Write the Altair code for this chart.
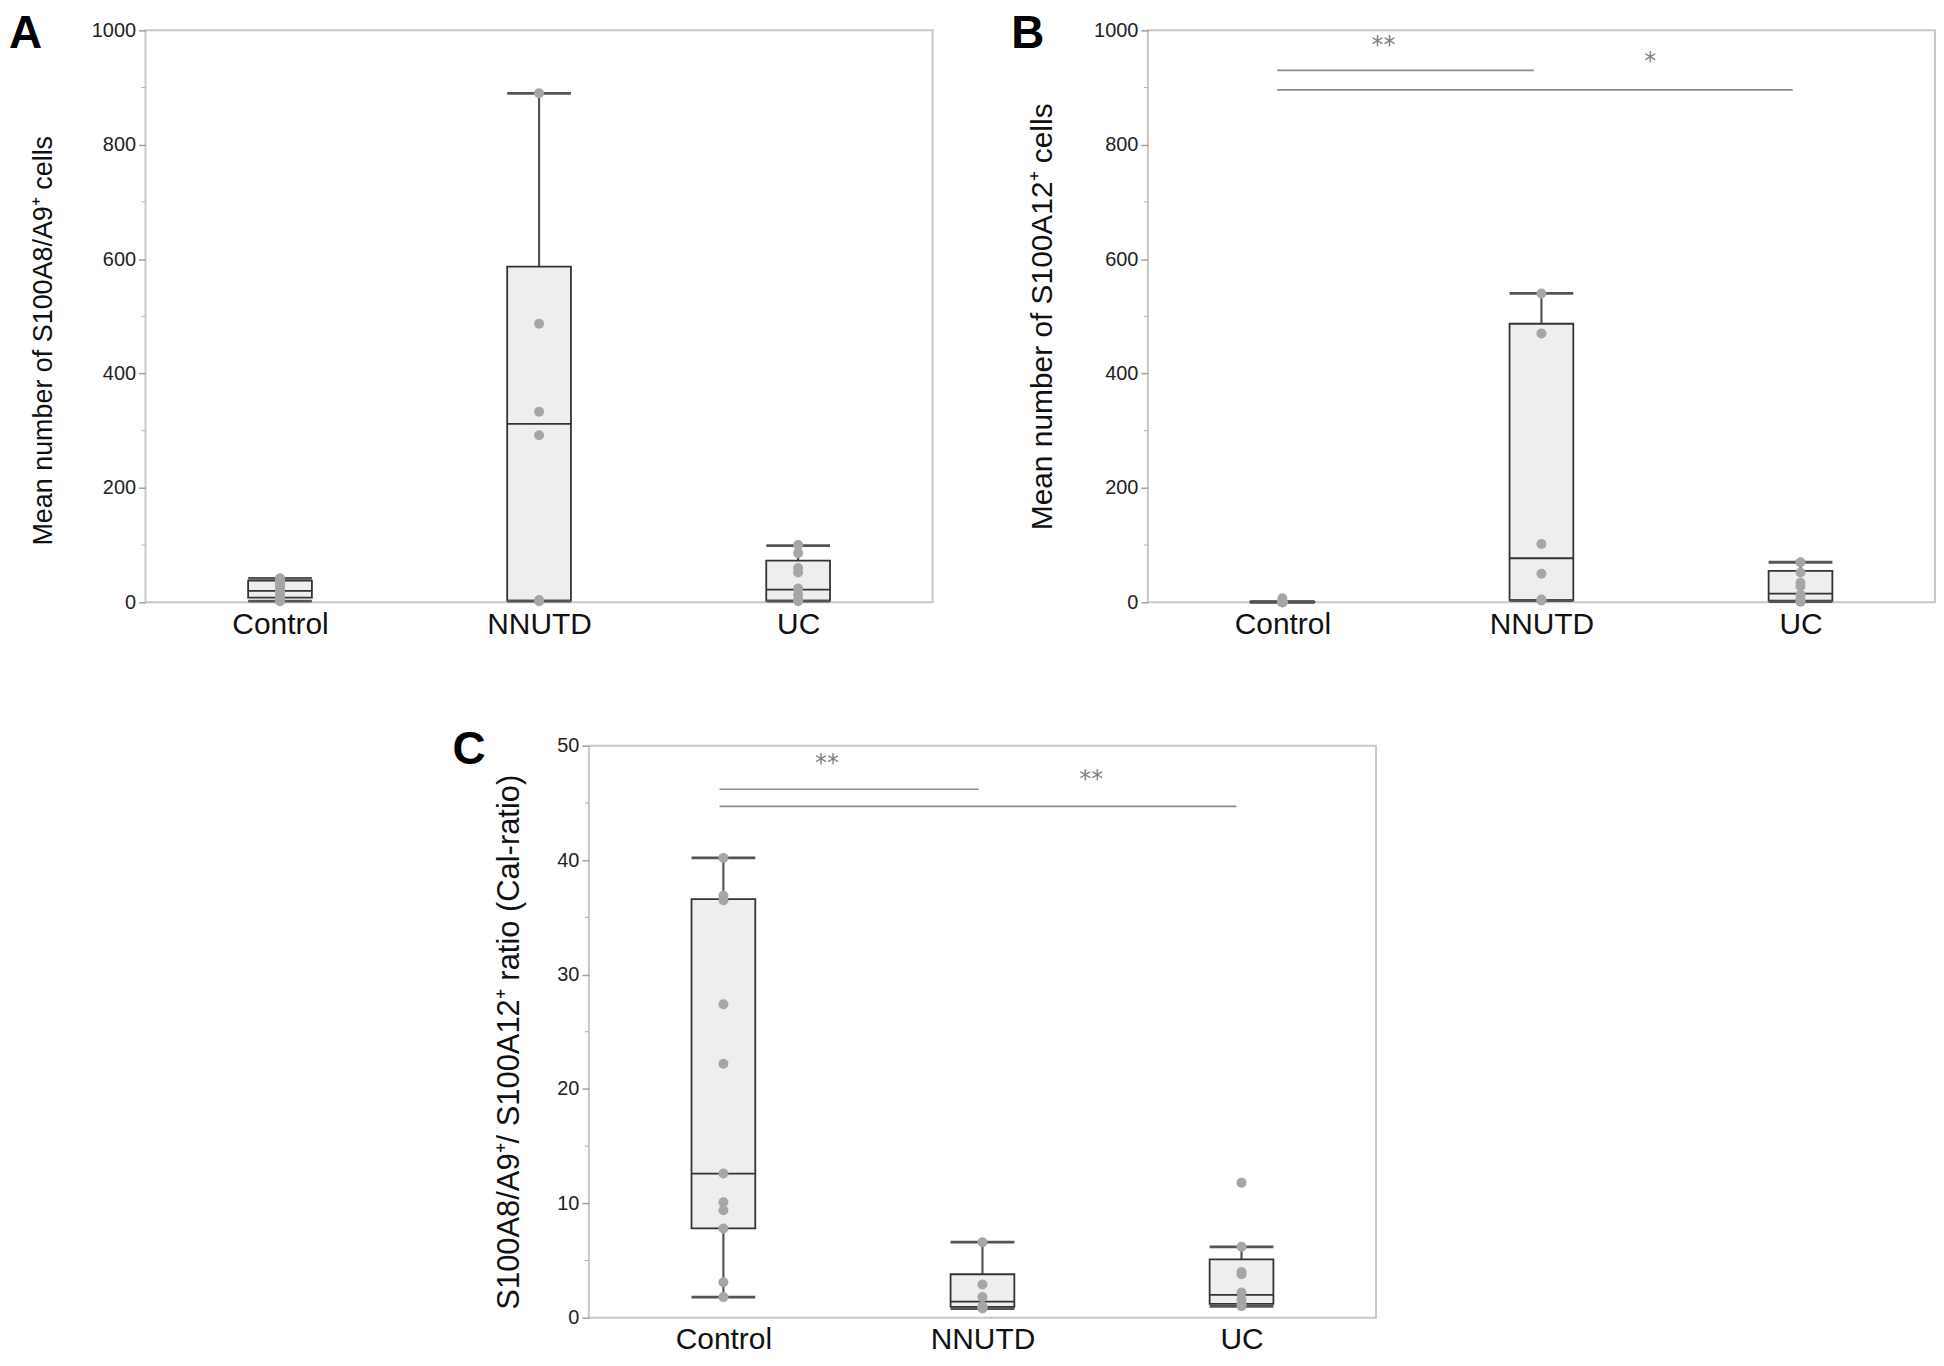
import altair as alt
import pandas as pd

groups = ["Control", "NNUTD", "UC"]
group_pos = [0, 1, 2]

# ---------------- Panel A : S100A8/A9+ cells ----------------
a_points = {
    "Control": [42, 38, 34, 29, 24, 20, 16, 12, 9, 5, 2],
    "NNUTD": [890, 487, 333, 292, 4, 2],
    "UC": [100, 86, 60, 52, 24, 13, 5, 2],
}
a_wlo = [2, 2, 2]
a_q1 = [8, 3, 3]
a_med = [20, 312, 22]
a_q3 = [38, 587, 73]
a_whi = [42, 890, 99]

# ---------------- Panel B : S100A12+ cells ----------------
b_points = {
    "Control": [7, 2, 1, 1, 0, 0, 0, 0, 0, 0, 0],
    "NNUTD": [540, 470, 102, 50, 5, 3],
    "UC": [70, 52, 34, 28, 13, 6, 2, 1],
}
b_wlo = [0, 3, 1]
b_q1 = [0, 4, 3]
b_med = [1, 77, 15]
b_q3 = [1, 487, 55]
b_whi = [1, 540, 70]
b_sig_x1 = [-0.02, -0.02]
b_sig_x2 = [0.97, 1.97]
b_sig_y = [930, 896]
b_sig_text = ["**", "*"]
b_sig_tx = [0.39, 1.42]
b_sig_ty = [972, 945]

# ---------------- Panel C : Cal-ratio ----------------
c_points = {
    "Control": [40.2, 36.9, 36.5, 27.4, 22.2, 12.6, 10.1, 9.4, 7.8, 3.1, 1.8],
    "NNUTD": [6.6, 2.9, 1.8, 1.0, 0.9, 0.8],
    "UC": [11.8, 6.2, 4.0, 3.8, 2.2, 1.6, 1.2, 1.0],
}
c_wlo = [1.8, 0.8, 1.0]
c_q1 = [7.8, 0.95, 1.2]
c_med = [12.6, 1.4, 2.0]
c_q3 = [36.6, 3.8, 5.1]
c_whi = [40.2, 6.6, 6.2]
c_sig_x1 = [-0.015, -0.015]
c_sig_x2 = [0.985, 1.98]
c_sig_y = [46.2, 44.7]
c_sig_text = ["**", "**"]
c_sig_tx = [0.40, 1.42]
c_sig_ty = [48.4, 47.0]

W = 790
H = 574
BOX_PX = 64
FONT = "Liberation Sans"

label_expr = str(groups) + "[datum.value]"


def panel(letter, pts, wlo, q1, med, q3, whi, ydom, ymajor, yminor, ytitle,
          title_x, title_dy, title_size, sig=None):
    summ = pd.DataFrame({"group": groups, "pos": group_pos, "wlo": wlo,
                         "q1": q1, "med": med, "q3": q3, "whi": whi})
    rows = [{"group": g, "pos": p, "value": v}
            for g, p in zip(groups, group_pos) for v in pts[g]]
    pdf = pd.DataFrame(rows)

    xscale = alt.Scale(domain=[-0.5, 2.5], nice=False, zero=False)
    yscale = alt.Scale(domain=ydom, nice=False, zero=False)
    xaxis = alt.Axis(values=group_pos, labelExpr=label_expr, title=None,
                     ticks=False, domain=False, grid=False,
                     labelFontSize=30, labelPadding=7, labelColor="#111111",
                     labelFont=FONT)
    yaxis = alt.Axis(values=ymajor, title=ytitle, grid=False, domain=False,
                     tickSize=7, tickColor="#a0a0a0", tickWidth=1.5,
                     labelFontSize=20, labelPadding=3, labelColor="#222222",
                     labelFont=FONT, format="d",
                     titleX=title_x, titleY=H / 2 + title_dy, titleAngle=-90,
                     titleBaseline="middle", titleAlign="center",
                     titleFontWeight="normal", titleFontSize=title_size,
                     titleFont=FONT, titleColor="#111111")

    base = alt.Chart(summ)
    whisk = base.mark_rule(color="#555555", strokeWidth=2.2).encode(
        x=alt.X("pos:Q", scale=xscale, axis=xaxis),
        y=alt.Y("wlo:Q", scale=yscale, axis=yaxis),
        y2="whi:Q",
    )
    box = base.mark_bar(size=BOX_PX, fill="#eeeeee", stroke="#333333",
                        strokeWidth=1.8).encode(
        x="pos:Q", y="q1:Q", y2="q3:Q")
    medline = base.mark_tick(orient="horizontal", size=BOX_PX, thickness=1.8,
                             color="#333333", opacity=1).encode(
        x="pos:Q", y="med:Q")
    cap_hi = base.mark_tick(orient="horizontal", size=BOX_PX, thickness=2.8,
                            color="#555555", opacity=1).encode(
        x="pos:Q", y="whi:Q")
    cap_lo = base.mark_tick(orient="horizontal", size=BOX_PX, thickness=2.8,
                            color="#555555", opacity=1).encode(
        x="pos:Q", y="wlo:Q")
    points = alt.Chart(pdf).mark_circle(size=100, color="#a6a6a6",
                                        opacity=1).encode(
        x="pos:Q", y="value:Q")

    minor = alt.Chart(pd.DataFrame({"v": yminor})).mark_rule(
        color="#b0b0b0", strokeWidth=1).encode(
        y="v:Q", x=alt.value(-4), x2=alt.value(0))

    letter_txt = alt.Chart(pd.DataFrame({"t": [letter]})).mark_text(
        align="left", baseline="top", fontSize=46, fontWeight="bold",
        font="Liberation Sans", color="#000000").encode(
        text="t:N", x=alt.value(-137), y=alt.value(-18))

    layers = [whisk, box, medline, cap_hi, cap_lo, points, minor, letter_txt]

    if sig is not None:
        x1, x2, yv, txt, tx, ty = sig
        sdf = pd.DataFrame({"x1": x1, "x2": x2, "y": yv})
        tdf = pd.DataFrame({"t": txt, "x": tx, "y": ty})
        bars = alt.Chart(sdf).mark_rule(color="#8a8a8a",
                                        strokeWidth=1.6).encode(
            x="x1:Q", x2="x2:Q", y="y:Q")
        stars = alt.Chart(tdf).mark_text(fontSize=24, color="#808080",
                                         font="DejaVu Sans",
                                         baseline="middle").encode(
            x="x:Q", y="y:Q", text="t:N")
        layers += [bars, stars]

    return alt.layer(*layers).properties(width=W, height=H)


panel_a = panel("A", a_points, a_wlo, a_q1, a_med, a_q3, a_whi,
                [0, 1000], [0, 200, 400, 600, 800, 1000],
                [100, 300, 500, 700, 900],
                "Mean number of S100A8/A9\u207a cells", -102, 24, 27)
panel_b = panel("B", b_points, b_wlo, b_q1, b_med, b_q3, b_whi,
                [0, 1000], [0, 200, 400, 600, 800, 1000],
                [100, 300, 500, 700, 900],
                "Mean number of S100A12\u207a cells", -106, 0, 30,
                sig=(b_sig_x1, b_sig_x2, b_sig_y, b_sig_text, b_sig_tx,
                     b_sig_ty))
panel_c = panel("C", c_points, c_wlo, c_q1, c_med, c_q3, c_whi,
                [0, 50], [0, 10, 20, 30, 40, 50],
                [5, 15, 25, 35, 45],
                "S100A8/A9\u207a/ S100A12\u207a  ratio (Cal-ratio)", -80, 10,
                31,
                sig=(c_sig_x1, c_sig_x2, c_sig_y, c_sig_text, c_sig_tx,
                     c_sig_ty))

spacer = alt.Chart(pd.DataFrame({"a": [0]})).mark_point(opacity=0).encode(
    x=alt.value(20), y=alt.value(5)
).properties(width=307, height=10,
             view=alt.ViewBackground(strokeOpacity=0))

row1 = alt.hconcat(panel_a, panel_b, spacing=77)
row2 = alt.hconcat(spacer, panel_c, spacing=0)

chart = alt.vconcat(row1, row2, spacing=86).properties(
    padding=0, background="#ffffff"
).configure_view(stroke="#c8c8c8", strokeWidth=2)

chart.save("out.html", embed_options={"renderer": "svg", "actions": False})
